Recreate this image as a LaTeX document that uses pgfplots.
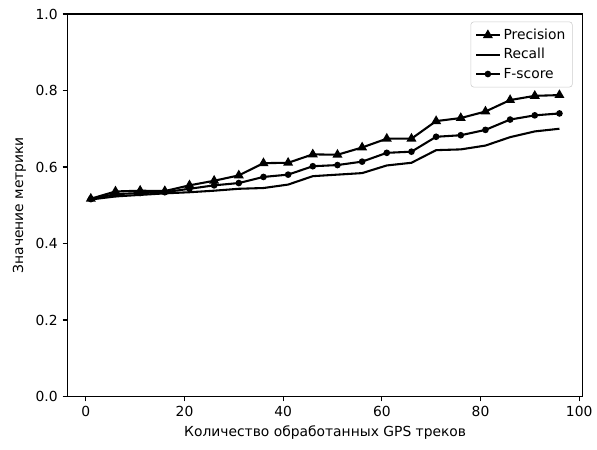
\documentclass[border=0pt]{standalone}
\usepackage{fontspec}
\setmainfont{DejaVu Sans}
\usepackage{pgfplots}
\pgfplotsset{compat=1.18}

\begin{document}
\begin{tikzpicture}
\begin{axis}[
    scale only axis,
    width=372pt, height=276pt,
    xmin=-3.75, xmax=100.75, ymin=0, ymax=1,
    xtick={0,20,40,60,80,100},
    ytick={0,0.2,0.4,0.6,0.8,1.0},
    yticklabel style={/pgf/number format/.cd, fixed, fixed zerofill, precision=1},
    /pgf/number format/assume math mode=true,
    tick align=outside,
    tick pos=left,
    major tick length=3.5pt,
    tick style={black, line width=0.8pt},
    axis line style={line width=0.8pt},
    ticklabel style={font=\fontsize{10}{12}\selectfont},
    label style={font=\fontsize{10}{12}\selectfont},
    xlabel={Количество обработанных GPS треков},
    ylabel={Значение метрики},
    legend style={at={(0.98,0.98)}, anchor=north east, draw=black!20, rounded corners=2pt,
        font=\fontsize{10}{12}\selectfont, row sep=1pt, inner sep=3pt},
    legend cell align=left,
]
% Precision
\addplot[black, line width=1.5pt, mark=triangle*, mark size=2.7pt, mark options={solid}] coordinates {
(1,0.517) (6,0.536) (11,0.538) (16,0.537) (21,0.552) (26,0.564) (31,0.578) (36,0.610) (41,0.611) (46,0.633)
(51,0.632) (56,0.651) (61,0.674) (66,0.674) (71,0.720) (76,0.728) (81,0.745) (86,0.775) (91,0.786) (96,0.788)};
\addlegendentry{Precision}
% Recall
\addplot[black, line width=1.5pt] coordinates {
(1,0.515) (6,0.523) (11,0.527) (16,0.531) (21,0.534) (26,0.538) (31,0.543) (36,0.545) (41,0.554) (46,0.576)
(51,0.580) (56,0.584) (61,0.604) (66,0.611) (71,0.644) (76,0.646) (81,0.656) (86,0.678) (91,0.693) (96,0.700)};
\addlegendentry{Recall}
% F-score
\addplot[black, line width=1.5pt, mark=*, mark size=1.6pt] coordinates {
(1,0.516) (6,0.529) (11,0.532) (16,0.534) (21,0.543) (26,0.552) (31,0.558) (36,0.574) (41,0.580) (46,0.602)
(51,0.605) (56,0.614) (61,0.637) (66,0.640) (71,0.679) (76,0.683) (81,0.697) (86,0.724) (91,0.735) (96,0.740)};
\addlegendentry{F-score}
\end{axis}
% a little extra margin, as in the reference
\path ([xshift=-6pt,yshift=3pt]current bounding box.north west) ([yshift=-4pt]current bounding box.south east);
\end{tikzpicture}
\end{document}
